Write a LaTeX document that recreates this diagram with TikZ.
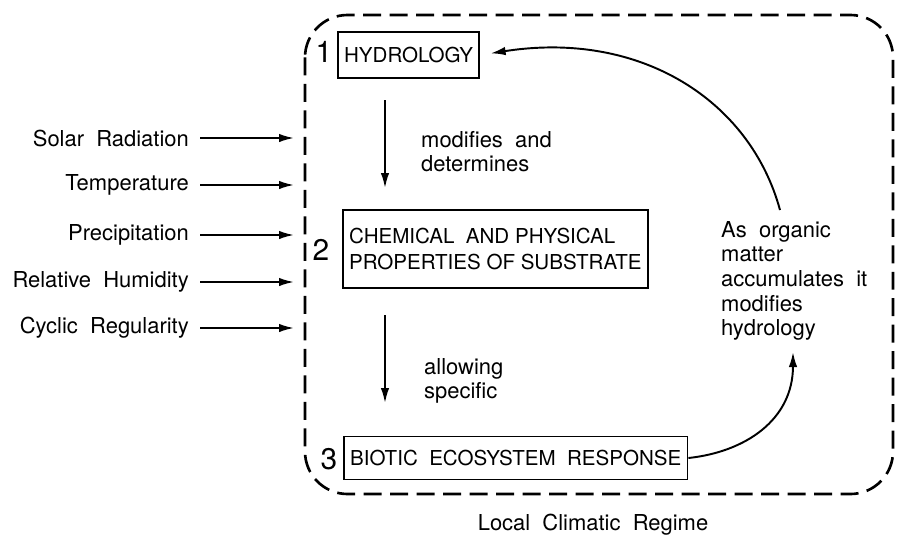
\documentclass[tikz,border=0pt]{standalone}
\usepackage{fontspec}
\setmainfont{TeX Gyre Heros}
\usetikzlibrary{positioning, calc, arrows.meta}

\tikzset{
  stagebox/.style={draw, line width=1.1pt, anchor=west, inner xsep=3.5pt, align=left,
    font=\fontsize{11.7}{15}\selectfont},
  stagenum/.style={font=\fontsize{17}{17}\selectfont},
  factor/.style={anchor=east, font=\fontsize{12.5}{14}\selectfont},
  note/.style={anchor=north west, align=left, font=\fontsize{12.5}{14}\selectfont},
  flow/.style={line width=1.1pt, -{Latex[length=0.3cm, width=0.17cm]}},
  regime/.style={dashed, dash pattern=on 0.36cm off 0.17cm, line width=1.5pt, rounded corners=0.85cm}
}

\begin{document}
\begin{tikzpicture}[x=0.02cm, y=-0.02cm]
  \useasboundingbox (0,0) rectangle (897,542);
  % the local climatic regime
  \draw[regime] (305,15) rectangle (893,494);
  \node[font=\fontsize{12.5}{14}\selectfont] (regime) at (593,525) {Local \ Climatic \ Regime};

  % stages
  \node[stagebox, minimum height=0.92cm] (hydro) at (337,55) {HYDROLOGY};
  \node[stagebox, minimum height=1.56cm] (subst) at (342,249) {CHEMICAL \ AND PHYSICAL\\PROPERTIES OF SUBSTRATE};
  \node[stagebox, minimum height=0.86cm] (biota) at (343,458) {BIOTIC \ ECOSYSTEM \ RESPONSE};
  \node[stagenum] (n1) at (324,52) {1};
  \node[stagenum] (n2) at (321,250) {2};
  \node[stagenum] (n3) at (329,459) {3};

  % downward links
  \coordinate (a1) at (385,100);
  \coordinate (a2) at (385,188);
  \coordinate (b1) at (385,315);
  \coordinate (b2) at (385,403);
  \draw[flow] (a1) -- (a2);
  \draw[flow] (b1) -- (b2);
  \node[note] (mod) at (415,125) {modifies \ and\\determines};
  \node[note] (allow) at (418,352) {allowing\\specific};

  % feedback
  \node[note] (feed) at (715,215) {As \ organic\\matter\\accumulates \ it\\modifies\\hydrology};
  \coordinate (f1) at (780,210);
  \coordinate (f2) at (793,352);
  \draw[flow, shorten >=6pt] (f1) .. controls (750,100) and (640,30) .. (hydro.east);
  \draw[flow] (biota.east) .. controls (745,452) and (793,420) .. (f2);

  % climatic factors
  \foreach \y/\txt in {138/Solar \ Radiation, 185/Temperature, 235/Precipitation,
                       282/Relative \ Humidity, 328/Cyclic \ Regularity}{
    \node[factor] (fac\y) at (195,\y) {\txt};
    \coordinate (in\y) at (294,\y);
    \draw[flow, shorten <=3pt] (fac\y.east) -- (in\y);
  }
\end{tikzpicture}
\end{document}
